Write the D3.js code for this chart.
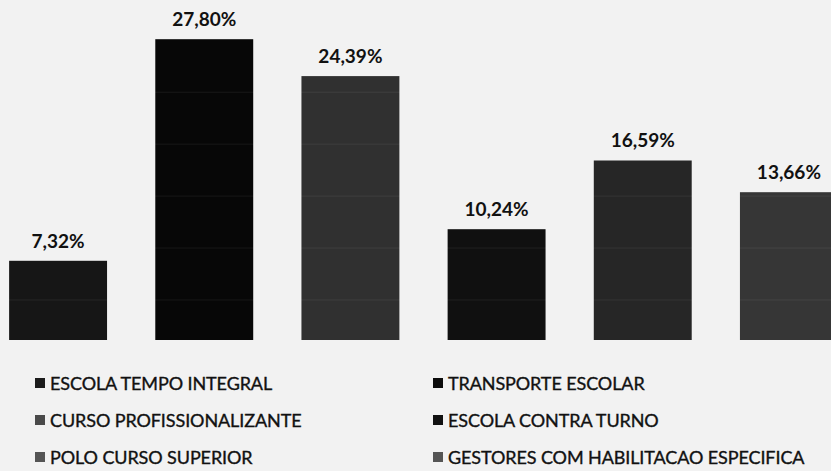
<!DOCTYPE html>
<html><head><meta charset="utf-8">
<script src="https://cdn.jsdelivr.net/npm/d3@7"></script>
<style>html,body{margin:0;padding:0;background:#f2f2f2;}svg{display:block;}</style>
</head><body>
<svg id="c" width="831" height="471"></svg>
<script>
const categories = ["ESCOLA TEMPO INTEGRAL","TRANSPORTE ESCOLAR","CURSO PROFISSIONALIZANTE","ESCOLA CONTRA TURNO","POLO CURSO SUPERIOR","GESTORES COM HABILITACAO ESPECIFICA"];
const values = [7.32, 27.80, 24.39, 10.24, 16.59, 13.66];
const labels = ["7,32%","27,80%","24,39%","10,24%","16,59%","13,66%"];
const colors = ["#161616","#070707","#303030","#101010","#262626","#363636"];
const legendColors = ["#1c1c1c","#0c0c0c","#4a4a4a","#111111","#555555","#555555"];
const gridValues = [3.7, 8.5, 13.3, 18.1, 22.9];

const svg = d3.select("#c");
svg.append("rect").attr("width",831).attr("height",471).attr("fill","#f2f2f2");

const x = d3.scaleBand().domain(categories).range([-15, 862]).paddingInner(0.33).paddingOuter(0.165);
const y = d3.scaleLinear().domain([0, 30]).range([340, 15.4]);

svg.append("g").selectAll("rect").data(categories).join("rect")
  .attr("x", d => x(d)).attr("width", x.bandwidth())
  .attr("y", (d,i) => y(values[i])).attr("height", (d,i) => y(0) - y(values[i]))
  .attr("fill", (d,i) => colors[i]);

// faint gridlines visible over bars
svg.append("g").selectAll("line").data(gridValues).join("line")
  .attr("x1", 0).attr("x2", 831).attr("y1", d => y(d)).attr("y2", d => y(d))
  .attr("stroke", "rgba(255,255,255,0.07)").attr("stroke-width", 1);

svg.append("g").selectAll("text").data(categories).join("text")
  .attr("x", d => x(d) + x.bandwidth()/2)
  .attr("y", (d,i) => y(values[i]) - 13)
  .attr("text-anchor", "middle")
  .attr("font-family", "Lato, 'Open Sans', sans-serif")
  .attr("font-weight", "bold").attr("font-size", 19).attr("fill", "#111")
  .text((d,i) => labels[i]);

// legend
const lg = svg.append("g");
const colX = [35, 433], rowY = [390, 427, 464];
categories.forEach((c,i) => {
  const cx = colX[i % 2], by = rowY[Math.floor(i/2)];
  lg.append("rect").attr("x", cx).attr("y", by - 12).attr("width", 10).attr("height", 10).attr("fill", legendColors[i]);
  lg.append("text").attr("x", cx + 15).attr("y", by)
    .attr("font-family", "Lato, 'Open Sans', sans-serif").attr("font-size", 18)
    .attr("fill", "#111").attr("stroke", "#111").attr("stroke-width", 0.35)
    .style("letter-spacing","-0.1px").text(c);
});
</script>
</body></html>
